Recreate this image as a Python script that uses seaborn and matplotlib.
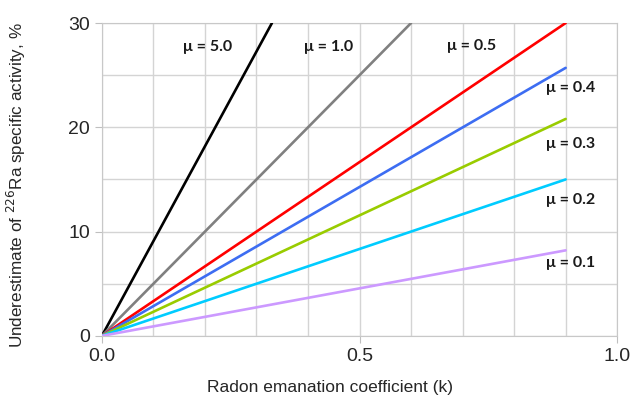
import numpy as np
import pandas as pd
import matplotlib
matplotlib.use("Agg")
import matplotlib.pyplot as plt
import seaborn as sns

# values
mu_labels = ["5.0", "1.0", "0.5", "0.4", "0.3", "0.2", "0.1"]
k_start = [0.0, 0.0, 0.0, 0.0, 0.0, 0.0, 0.0]
k_end = [0.33, 0.60, 0.90, 0.90, 0.90, 0.90, 0.90]
under_end = [30.0, 30.0, 30.0, 25.7, 20.8, 15.0, 8.2]
colors = ["#000000", "#808080", "#ff0000", "#3d6df2", "#99cc00", "#00ccff", "#cc99ff"]

# label positions (k, %)
label_k = [0.205, 0.44, 0.717, 0.91, 0.91, 0.91, 0.91]
label_y = [27.7, 27.7, 27.8, 23.8, 18.4, 13.0, 7.0]

rows = []
for m, k0, k1, u in zip(mu_labels, k_start, k_end, under_end):
    rows.append({"mu": m, "k": k0, "u": 0.0})
    rows.append({"mu": m, "k": k1, "u": u})
df = pd.DataFrame(rows)

sns.set_style("white")
plt.rcParams["font.family"] = ["Liberation Sans", "DejaVu Sans"]
fig = plt.figure(figsize=(6.33, 3.97), dpi=100)
ax = fig.add_axes([0.161, 0.154, 0.814, 0.788])

sns.lineplot(data=df, x="k", y="u", hue="mu", palette=dict(zip(mu_labels, colors)),
             linewidth=1.9, legend=False, ax=ax, zorder=3)

ax.set_xlim(0, 1.0)
ax.set_ylim(0, 30)
ax.set_xticks([0.0, 0.5, 1.0])
ax.set_xticklabels(["0.0", "0.5", "1.0"])
ax.set_yticks([0, 10, 20, 30])
ax.set_xticks(np.arange(0, 1.01, 0.1), minor=True)
ax.set_yticks(np.arange(0, 31, 5), minor=True)
ax.grid(which="both", color="#d4d4d4", linewidth=1)
ax.set_axisbelow(True)
ax.tick_params(which="major", length=5, color="#bfbfbf", labelsize=14, direction="out",
               left=True, bottom=True)
ax.tick_params(which="minor", length=0)
for s in ax.spines.values():
    s.set_color("#c8c8c8")

ax.set_xlabel("Radon emanation coefficient (k)", fontsize=12.5)
ax.set_ylabel("Underestimate of $^{226}$Ra specific activity, %", fontsize=12.3)
ax.xaxis.set_label_coords(0.443, -0.14)
ax.yaxis.set_label_coords(-0.144, 0.482)

for m, lk, ly in zip(mu_labels, label_k, label_y):
    ax.text(lk, ly, "μ = " + m, ha="center", va="center", fontsize=11.5,
            fontweight="bold", family=["Lato", "DejaVu Sans"], color="#1a1a1a")

fig.savefig("out.png", dpi=100)
